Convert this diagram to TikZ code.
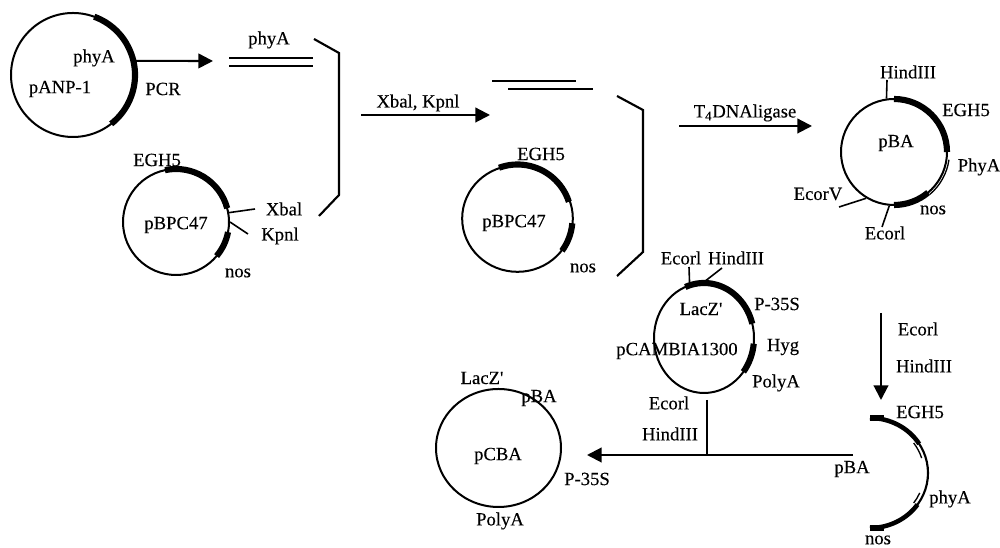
\documentclass[tikz,border=0pt]{standalone}
\usepackage{fontspec}
\setmainfont{Liberation Serif}[Ligatures=TeXReset, FakeBold=0.25]
\usetikzlibrary{arrows.meta, shapes.geometric}
\tikzset{
    plasmid/.style={circle, draw, line width=1.5pt, inner sep=0pt},
    oval/.style={ellipse, draw, line width=1.5pt, inner sep=0pt},
    lbl/.style={inner sep=0pt, font=\fontsize{14}{14}\selectfont},
    insert/.style={line width=4.6pt},
    strand/.style={line width=1.6pt},
    flow/.style={line width=1.6pt, -{Triangle[length=11pt, width=11pt]}},
    tick/.style={line width=1.2pt}
}
\begin{document}
\begin{tikzpicture}[x=0.75pt, y=0.75pt]
    \useasboundingbox (0,0) rectangle (1000,548);

    % plasmids
    \node[plasmid, minimum size=93pt] (pANP) at (73,473) {};
    \node[plasmid, minimum size=79.5pt] (pBPCa) at (176,326) {};
    \node[oval, minimum width=83pt, minimum height=80pt] (pBPCb) at (517.5,329.5) {};
    \node[plasmid, minimum size=79.5pt] (pBA) at (894,396) {};
    \node[oval, minimum width=75pt, minimum height=82.5pt] (pCAM) at (704,210) {};
    \node[oval, minimum width=93.75pt, minimum height=88.5pt] (pCBA) at (498.5,100) {};

    % thick inserts
    \draw[insert] ([shift={(70:62)}]pANP.center) arc[start angle=70, end angle=-52, radius=62];
    \draw[insert] ([shift={(102:53)}]pBPCa.center) arc[start angle=102, end angle=15, radius=53];
    \draw[insert] ([shift={(-11:53)}]pBPCa.center) arc[start angle=-11, end angle=-40, radius=53];
    \draw[insert] ([shift={(110:54)}]pBPCb.center) arc[start angle=110, end angle=18, radius=54];
    \draw[insert] ([shift={(-5:55)}]pBPCb.center) arc[start angle=-5, end angle=-36, radius=55];
    \draw[insert] ([shift={(90:53)}]pBA.center) arc[start angle=90, end angle=0, radius=53];
    \draw[insert] ([shift={(-90:53)}]pBA.center) arc[start angle=-90, end angle=-50, radius=53];
    \draw[line width=1pt] ([shift={(-8:55.5)}]pBA.center) arc[start angle=-8, end angle=-50, radius=55.5];
    \draw[insert] (704,210) ++(112:50 and 55) arc[start angle=112, end angle=15, x radius=50, y radius=55];
    \draw[insert] (704,210) ++(-6:50 and 55) arc[start angle=-6, end angle=-38, x radius=50, y radius=55];

    % cut fragment
    \coordinate (fragtop) at (870,130);
    \coordinate (fragbot) at (870,20);
    \draw[line width=1.6pt] (fragtop) arc[start angle=90, end angle=-90, x radius=58, y radius=55];
    \draw[line width=3.4pt] (870,130) arc[start angle=90, end angle=32, x radius=58, y radius=55];
    \draw[line width=3.4pt] (870,20) arc[start angle=-90, end angle=-35, x radius=58, y radius=55];
    \draw[insert] (fragtop) -- (884,130);
    \draw[insert] (fragbot) -- (884,20);
    \draw[line width=1pt] (870,75) ++(36:54 and 51) arc[start angle=36, end angle=17, x radius=54, y radius=51];
    \draw[line width=1pt] (870,75) ++(-23:54 and 51) arc[start angle=-23, end angle=-36, x radius=54, y radius=51];

    % restriction site ticks
    \coordinate (xbaend) at (255,339);
    \coordinate (kpnend) at (248,314);
    \coordinate (hinda) at (887,468);
    \coordinate (ecovend) at (839,341);
    \coordinate (ecoa) at (882,321);
    \coordinate (ecob) at (689,281);
    \coordinate (hindb) at (722,280);
    \draw[tick] (pBPCa.10) -- (xbaend);
    \draw[tick] (pBPCa.0) -- (kpnend);
    \draw[tick] (pBA.98) -- (hinda);
    \draw[tick] (pBA.239) -- (ecovend);
    \draw[tick] (pBA.265) -- (ecoa);
    \draw[tick] (pCAM.105) -- (ecob);
    \draw[tick] (pCAM.90) -- (hindb);

    % strands
    \coordinate (sa) at (229,490);
    \coordinate (sb) at (313,490);
    \coordinate (sc) at (229,482);
    \coordinate (sd) at (313,482);
    \coordinate (se) at (492,467);
    \coordinate (sf) at (576,467);
    \coordinate (sg) at (508,459);
    \coordinate (sh) at (593,459);
    \draw[strand] (sa) -- (sb);
    \draw[strand] (sc) -- (sd);
    \draw[strand] (se) -- (sf);
    \draw[strand] (sg) -- (sh);

    % brackets
    \draw[strand] (314,509) -- (339,495) -- (339,353) -- (319,332);
    \draw[strand] (617,452) -- (643,438) -- (643,296) -- (617,272);

    % arrows
    \coordinate (pcrend) at (213,487);
    \coordinate (xkstart) at (361,433);
    \coordinate (xkend) at (490,433);
    \coordinate (ligstart) at (679,422);
    \coordinate (ligend) at (812,422);
    \coordinate (cutstart) at (881,235);
    \coordinate (cutend) at (881,148);
    \coordinate (joinright) at (853,93);
    \coordinate (joinleft) at (587,93);
    \coordinate (joinmid) at (707,93);
    \coordinate (camdown) at (707,148);
    \draw[flow] (pANP.13) -- (pcrend);
    \draw[flow] (xkstart) -- (xkend);
    \draw[flow] (ligstart) -- (ligend);
    \draw[flow] (cutstart) -- (cutend);
    \draw[flow] (joinright) -- (joinleft);
    \draw[strand] (camdown) -- (joinmid);

    % labels
    \node[lbl] (phyAa) at (94,490) {phyA};
    \node[lbl] (anpname) at (60,459) {pANP-1};
    \node[lbl] (pcr) at (163,459) {PCR};
    \node[lbl] (phyAb) at (269,508) {phyA};
    \node[lbl] (egha) at (157,388) {EGH5};
    \node[lbl] (bpcaname) at (176,323) {pBPC47};
    \node[lbl] (xba) at (284,339) {Xbal};
    \node[lbl] (kpn) at (280,312) {Kpnl};
    \node[lbl] (nosa) at (238,275) {nos};
    \node[lbl] (xbkp) at (418,445) {Xbal, Kpnl};
    \node[lbl] (eghb) at (541,394) {EGH5};
    \node[lbl] (bpcbname) at (514,325) {pBPC47};
    \node[lbl] (nosb) at (583,280) {nos};
    \node[lbl] (ligase) at (745,435) {T\textsubscript{4}DNAligase};
    \node[lbl] (hindc) at (908,476) {HindIII};
    \node[lbl] (eghc) at (966,438) {EGH5};
    \node[lbl] (baname) at (896,405) {pBA};
    \node[lbl] (phyAc) at (979,381) {PhyA};
    \node[lbl] (ecov) at (818,354) {EcorV};
    \node[lbl] (nosc) at (933,338) {nos};
    \node[lbl] (ecoc) at (885,315) {Ecorl};
    \node[lbl] (ecod) at (681,290) {Ecorl};
    \node[lbl] (hindd) at (736,290) {HindIII};
    \node[lbl] (lacza) at (701,239) {LacZ'};
    \node[lbl] (p35a) at (777,244) {P-35S};
    \node[lbl] (hyg) at (783,201) {Hyg};
    \node[lbl] (camname) at (677,197) {pCAMBIA1300};
    \node[lbl] (polya) at (776,165) {PolyA};
    \node[lbl] (ecoe) at (669,145) {Ecorl};
    \node[lbl] (hinde) at (670,114) {HindIII};
    \node[lbl] (bab) at (852,79) {pBA};
    \node[lbl] (eghd) at (920,136) {EGH5};
    \node[lbl] (phyAd) at (950,49) {phyA};
    \node[lbl] (nosd) at (878,8) {nos};
    \node[lbl] (ecof) at (918,219) {Ecorl};
    \node[lbl] (hindf) at (924,182) {HindIII};
    \node[lbl] (laczb) at (482,170) {LacZ'};
    \node[lbl] (bac) at (539,150) {pBA};
    \node[lbl] (cbaname) at (498,92) {pCBA};
    \node[lbl] (p35b) at (587,69) {P-35S};
    \node[lbl] (polyb) at (500,27) {PolyA};
\end{tikzpicture}
\end{document}
